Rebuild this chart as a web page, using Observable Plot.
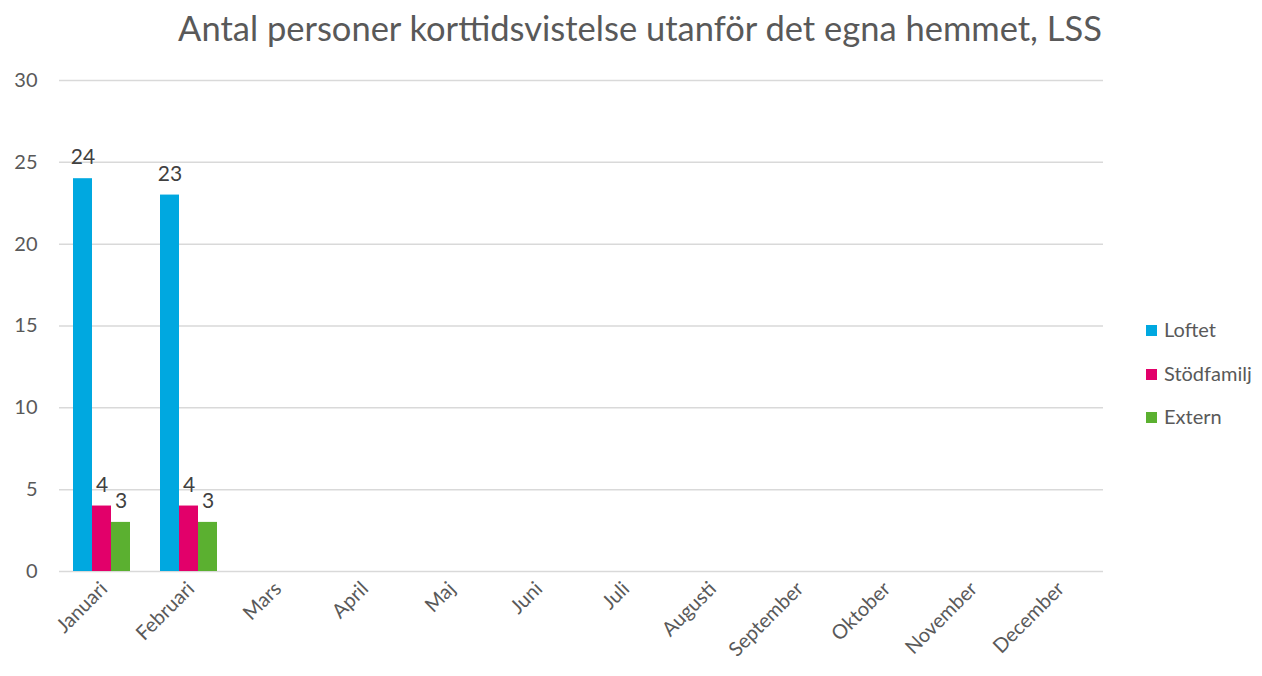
<!DOCTYPE html>
<html><head><meta charset="utf-8">
<script src="https://cdn.jsdelivr.net/npm/d3@7"></script>
<script src="https://cdn.jsdelivr.net/npm/@observablehq/plot@0.6"></script>
<style>
body{margin:0;background:#fff;font-family:Lato,"Open Sans",sans-serif;}
#wrap{position:relative;width:1262px;height:676px;}
#title{height:60px;line-height:56px;text-align:center;font-size:34.5px;color:#595959;padding-left:18px;}
#legend{position:absolute;left:1146px;top:317px;font-size:20px;color:#595959;}
#legend div{height:43.5px;display:flex;align-items:flex-start;}
#legend span.sw{display:inline-block;width:11px;height:11px;margin-right:7px;margin-top:8px;}
</style></head>
<body><div id="wrap"><div id="title">Antal personer korttidsvistelse utanför det egna hemmet, LSS</div><div id="chart"></div><div id="legend"></div></div>
<script>
const months = ["Januari","Februari","Mars","April","Maj","Juni","Juli","Augusti","September","Oktober","November","December"];
const series = ["Loftet","Stödfamilj","Extern"];
const colors = ["#00A8E0","#E2006A","#5BB030"];
const loftet = [24, 23];
const stodfamilj = [4, 4];
const extern = [3, 3];
const yTicks = [0,5,10,15,20,25,30];

const values = [loftet, stodfamilj, extern];
const rows = [];
values.forEach((arr, si) => arr.forEach((v, mi) => rows.push({month: months[mi], series: series[si], value: v})));
const gridRows = months.flatMap(m => yTicks.map(t => ({month: m, tick: t})));

const chart = Plot.plot({
  width: 1262, height: 616,
  marginLeft: 58, marginRight: 158, marginTop: 20, marginBottom: 105,
  style: {fontFamily: "Lato, 'Open Sans', sans-serif", color: "#595959"},
  fx: {domain: months, padding: 0, label: null},
  x: {domain: series, paddingInner: 0, paddingOuter: 0.7, align: 0.45, axis: null},
  y: {domain: [0, 30], label: null},
  color: {domain: series, range: colors},
  marks: [
    Plot.ruleY(gridRows, {fx: "month", y: "tick", stroke: "#d9d9d9", strokeWidth: 1.5}),
    Plot.axisY(yTicks, {tickSize: 0, tickPadding: 22, fontSize: 20, fill: "#595959", label: null}),
    Plot.axisFx({tickRotate: -45, tickSize: 0, tickPadding: 14, dx: 1, fontSize: 20, fill: "#595959", label: null, anchor: "bottom", textAnchor: "end"}),
    Plot.barY(rows, {fx: "month", x: "series", y: "value", fill: "series"}),
    Plot.text(rows, {fx: "month", x: "series", y: "value", text: d => String(d.value), dy: -21, fontSize: 21, fill: "#404040"})
  ]
});
document.getElementById("chart").appendChild(chart);
const lg = document.getElementById("legend");
series.forEach((s, i) => {
  const d = document.createElement("div");
  d.innerHTML = `<span class="sw" style="background:${colors[i]}"></span>${s}`;
  lg.appendChild(d);
});
</script></body></html>
